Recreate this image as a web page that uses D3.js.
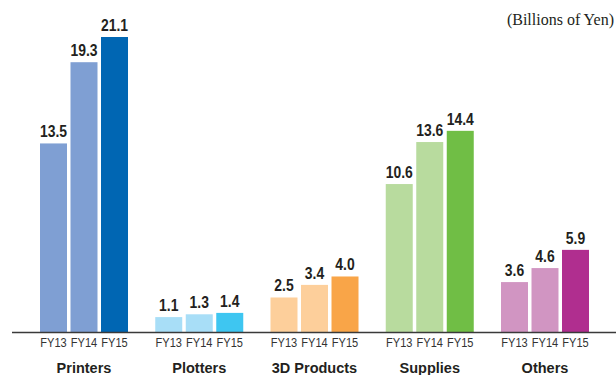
<!DOCTYPE html>
<html>
<head>
<meta charset="utf-8">
<script src="https://cdn.jsdelivr.net/npm/d3@7"></script>
<style>
    body { margin: 0; background: #fff; }
    svg { display: block; }
</style>
</head>
<body>
<div id="chart"></div>
<script>
// chart values
const categories = ["Printers", "Plotters", "3D Products", "Supplies", "Others"];
const years = ["FY13", "FY14", "FY15"];
const printers = [13.5, 19.3, 21.1];
const plotters = [1.1, 1.3, 1.4];
const products3d = [2.5, 3.4, 4.0];
const supplies = [10.6, 13.6, 14.4];
const others = [3.6, 4.6, 5.9];
const unitLabel = "(Billions of Yen)";

// colours per category: FY13, FY14, FY15
const colors = [
    ["#7f9fd3", "#7f9fd3", "#0066b3"],
    ["#a8def7", "#a8def7", "#3ec6f1"],
    ["#fdcf9b", "#fdcf9b", "#f9a548"],
    ["#b8db9e", "#b8db9e", "#70be45"],
    ["#d195c2", "#d195c2", "#b02e8f"]
];

const seriesByCat = [printers, plotters, products3d, supplies, others];

let width = 616;
let height = 375;
let baseY = 332.5;

let svg = d3.select("#chart")
    .append("svg")
    .attr("width", width)
    .attr("height", height);

let x0 = d3.scaleBand()
    .domain(categories)
    .range([40, 589])
    .paddingInner(0.2364)
    .paddingOuter(0);

let x1 = d3.scaleBand()
    .domain(years)
    .range([0, x0.bandwidth()])
    .paddingInner(0.115);

let y = d3.scaleLinear()
    .domain([0, 21.1])
    .range([baseY, 37]);

let data = [];
categories.forEach((c, i) => {
    years.forEach((yr, j) => {
        data.push({cat: c, year: yr, value: seriesByCat[i][j], color: colors[i][j]});
    });
});

let groups = svg.selectAll("g.group")
    .data(categories)
    .join("g")
    .attr("class", "group")
    .attr("transform", d => "translate(" + x0(d) + ",0)");

groups.selectAll("rect")
    .data(c => data.filter(d => d.cat === c))
    .join("rect")
    .attr("x", d => x1(d.year))
    .attr("y", d => y(d.value))
    .attr("width", x1.bandwidth())
    .attr("height", d => y(0) - y(d.value))
    .attr("fill", d => d.color);

// value labels (condensed look via horizontal squeeze)
groups.selectAll("text.val")
    .data(c => data.filter(d => d.cat === c))
    .join("text")
    .attr("class", "val")
    .attr("transform", d => "translate(" + (x1(d.year) + x1.bandwidth() / 2) + "," + (y(d.value) - 6) + ") scale(0.82,1)")
    .attr("text-anchor", "middle")
    .style("font-family", "'Liberation Sans', Arial, sans-serif")
    .style("font-weight", "bold")
    .style("font-size", "17px")
    .style("fill", "#231f20")
    .text(d => d.value.toFixed(1));

// year tick labels
groups.selectAll("text.yr")
    .data(years)
    .join("text")
    .attr("class", "yr")
    .attr("transform", d => "translate(" + (x1(d) + x1.bandwidth() / 2) + ",346.7) scale(0.85,1)")
    .attr("text-anchor", "middle")
    .style("font-family", "'Liberation Sans', Arial, sans-serif")
    .style("font-size", "13px")
    .style("fill", "#333")
    .text(d => d);

// category labels
groups.append("text")
    .attr("x", x0.bandwidth() / 2)
    .attr("y", 372.5)
    .attr("text-anchor", "middle")
    .style("font-family", "'Liberation Sans', Arial, sans-serif")
    .style("font-weight", "bold")
    .style("font-size", "14.5px")
    .style("fill", "#231f20")
    .text(d => d);

// baseline
svg.append("line")
    .attr("x1", 12)
    .attr("x2", 616)
    .attr("y1", baseY)
    .attr("y2", baseY)
    .attr("stroke", "#3a3a3a")
    .attr("stroke-width", 1.6);

// unit label
svg.append("text")
    .attr("x", 614)
    .attr("y", 24.5)
    .attr("text-anchor", "end")
    .style("font-family", "'Liberation Serif', 'DejaVu Serif', serif")
    .style("font-size", "16px")
    .style("fill", "#231f20")
    .text(unitLabel);
</script>
</body>
</html>
